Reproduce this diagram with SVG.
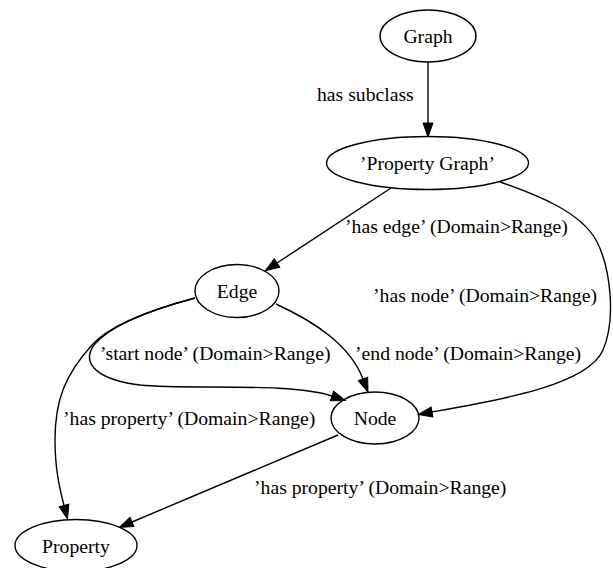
<svg xmlns="http://www.w3.org/2000/svg" width="613" height="568" viewBox="0 0 613 568">
<defs>
<marker id="ah" markerUnits="userSpaceOnUse" markerWidth="16" markerHeight="12" refX="0" refY="0" viewBox="0 -6 15 12" orient="auto" overflow="visible">
<path d="M0,-5 L14,0 L0,5 Z" fill="#000" stroke="#000" stroke-width="1"/>
</marker>
</defs>
<style>
.n ellipse{fill:none;stroke:#000;stroke-width:1.4}
text{font-family:"Liberation Serif","Times New Roman",serif;font-size:19.7px;fill:#000}
.c{text-anchor:middle}
.e path{fill:none;stroke:#000;stroke-width:1.4;marker-end:url(#ah)}
</style>
<rect width="613" height="568" fill="#fff"/>
<g id="Graph" class="n"><ellipse cx="428" cy="36" rx="48" ry="26"/><text class="c" x="428" y="43">Graph</text></g>
<g id="PropertyGraph" class="n"><ellipse cx="427.5" cy="163" rx="101" ry="26.5"/><text class="c" x="427.5" y="170">’Property Graph’</text></g>
<g id="Edge" class="n"><ellipse cx="237" cy="291" rx="42" ry="26.5"/><text class="c" x="237" y="298">Edge</text></g>
<g id="Node" class="n"><ellipse cx="375" cy="418" rx="44" ry="26"/><text class="c" x="375" y="425">Node</text></g>
<g id="Property" class="n"><ellipse cx="76" cy="545.5" rx="61" ry="26"/><text class="c" x="76" y="552.5">Property</text></g>
<g id="connectors" class="e">
<path d="M428,62 L428,123"/>
<text x="317" y="101">has subclass</text>
<path d="M391,188 L277,263"/>
<text x="345" y="233">’has edge’ (Domain&gt;Range)</text>
<path d="M500,182 C540,196 580,212 596,240 C611,268 616,320 603,350 C588,385 500,400 432,412"/>
<text x="373" y="302">’has node’ (Domain&gt;Range)</text>
<path d="M276,304 C315,322 350,345 363,379"/>
<text x="355" y="360">’end node’ (Domain&gt;Range)</text>
<path d="M195,298 C150,310 110,325 94,345 C80,365 100,380 140,385 C190,390 290,382 332,396"/>
<text x="100" y="360">’start node’ (Domain&gt;Range)</text>
<path d="M195,298 C150,310 110,325 92,345 C65,375 55,400 55,440 C55,470 60,490 64,505.5"/>
<text x="63" y="425">’has property’ (Domain&gt;Range)</text>
<path d="M338,435 L132,522"/>
<text x="254" y="494">’has property’ (Domain&gt;Range)</text>
</g>
</svg>
